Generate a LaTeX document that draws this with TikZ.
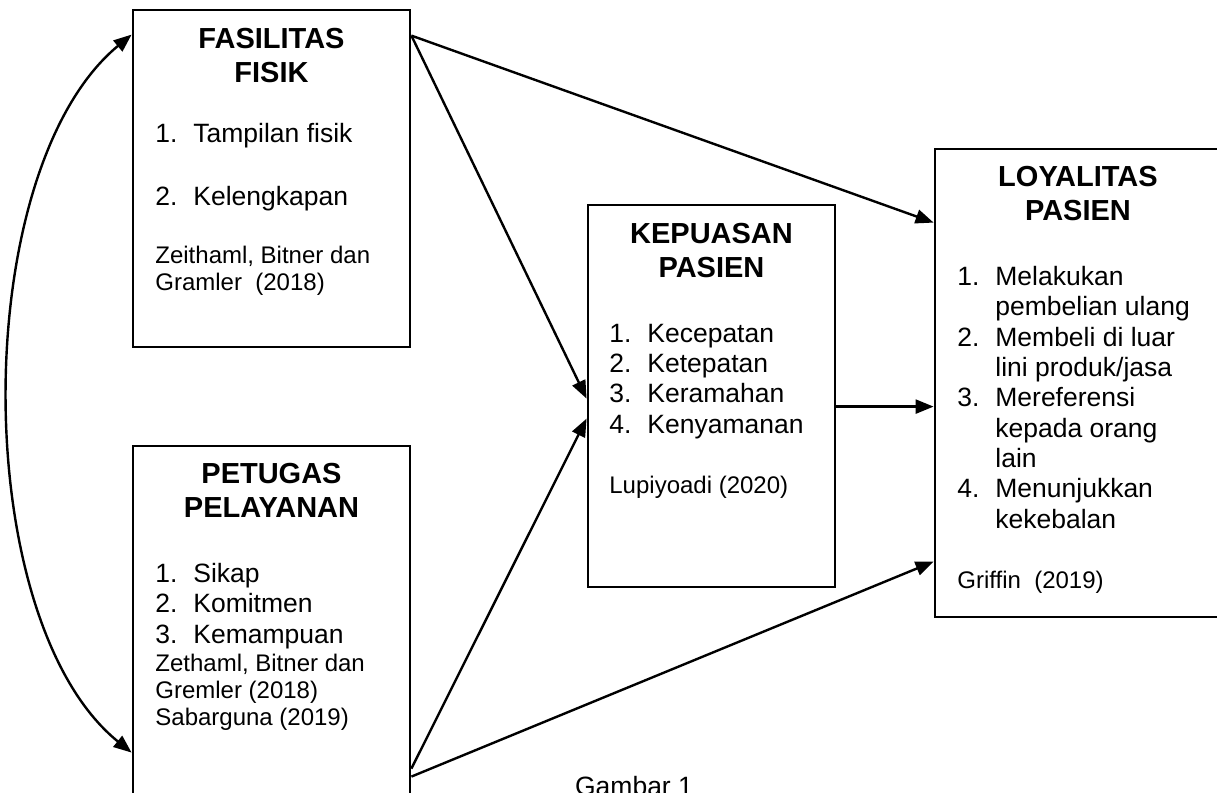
\documentclass[tikz,border=0pt]{standalone}
\usepackage{fontspec}
\setmainfont{Liberation Sans}
\usetikzlibrary{calc,positioning,fit,arrows.meta}
\tikzset{
    % kotak variabel
    box/.style={draw, line width=1.4pt, inner sep=0pt},
    % panah antar variabel
    conn/.style={line width=1.2pt, -{Triangle[length=9pt, width=7pt]}},
    ttl/.style={font=\fontsize{14.5}{17}\selectfont\bfseries, align=center, anchor=base, inner sep=0pt},
    itm/.style={font=\fontsize{13.25}{15.15}\selectfont, align=left, anchor=base west, inner sep=0pt},
    refs/.style={font=\fontsize{12}{13.3}\selectfont, align=left, anchor=base west, inner sep=0pt}
}
\newcommand{\num}[1]{\makebox[19pt][l]{#1}}
\newcommand{\ind}{\hspace*{19pt}}

\begin{document}
\begin{tikzpicture}[x=0.5pt, y=-0.5pt]
	\useasboundingbox (0,0) rectangle (1217,793);

	\node[box, fit={(133,10) (410,347)}] (fas) {};
	\node[box, fit={(133,446) (410,830)}] (pet) {};
	\node[box, fit={(588,205) (835,587)}] (kep) {};
	\node[box, fit={(935,149) (1228,617)}] (loy) {};

	% teks: y = garis dasar baris terakhir
	\node[ttl] (fasT) at (271.5,82) {FASILITAS\\FISIK};
	\node[itm] (fasI) at (155,205) {\num{1.}Tampilan fisik\\[15.9pt]\num{2.}Kelengkapan};
	\node[refs] (fasR) at (155,290) {Zeithaml, Bitner dan\\Gramler\ \ (2018)};

	\node[ttl] (petT) at (271.5,517) {PETUGAS\\PELAYANAN};
	\node[itm] (petI) at (155,643) {\num{1.}Sikap\\\num{2.}Komitmen\\\num{3.}Kemampuan};
	\node[refs] (petR) at (155,725) {Zethaml, Bitner dan\\Gremler (2018)\\Sabarguna (2019)};

	\node[ttl] (kepT) at (711.5,277) {KEPUASAN\\PASIEN};
	\node[itm] (kepI) at (609,433) {\num{1.}Kecepatan\\\num{2.}Ketepatan\\\num{3.}Keramahan\\\num{4.}Kenyamanan};
	\node[refs] (kepR) at (609,493) {Lupiyoadi (2020)};

	\node[ttl] (loyT) at (1078,220) {LOYALITAS\\PASIEN};
	\node[itm] (loyI) at (957,528) {\num{1.}Melakukan\\\ind pembelian ulang\\\num{2.}Membeli di luar\\\ind lini produk/jasa\\\num{3.}Mereferensi\\\ind kepada orang\\\ind lain\\\num{4.}Menunjukkan\\\ind kekebalan};
	\node[refs] (loyR) at (957,588) {Griffin\ \ (2019)};

	\node[itm, anchor=base] (cap) at (634,795) {Gambar 1};

	\draw[conn] ($(fas.north east)+(0,27)$) -- ($(loy.north west)+(0,75)$);
	\draw[conn] ($(fas.north east)+(0,27)$) -- ($(kep.north west)+(0,195)$);
	\draw[conn] ($(pet.north east)+(0,324)$) -- ($(kep.north west)+(0,215)$);
	\draw[conn] ($(pet.north east)+(0,332)$) -- ($(loy.north west)+(0,414)$);
	\draw[conn] ($(kep.north east)+(0,203)$) -- ($(loy.north west)+(0,259)$);

	\draw[conn, {Triangle[length=9pt, width=7pt]}-{Triangle[length=9pt, width=7pt]}]
		($(fas.north west)+(0,26)$) .. controls (-32,170) and (-32,620) .. ($(pet.north west)+(0,308)$);
\end{tikzpicture}
\end{document}
